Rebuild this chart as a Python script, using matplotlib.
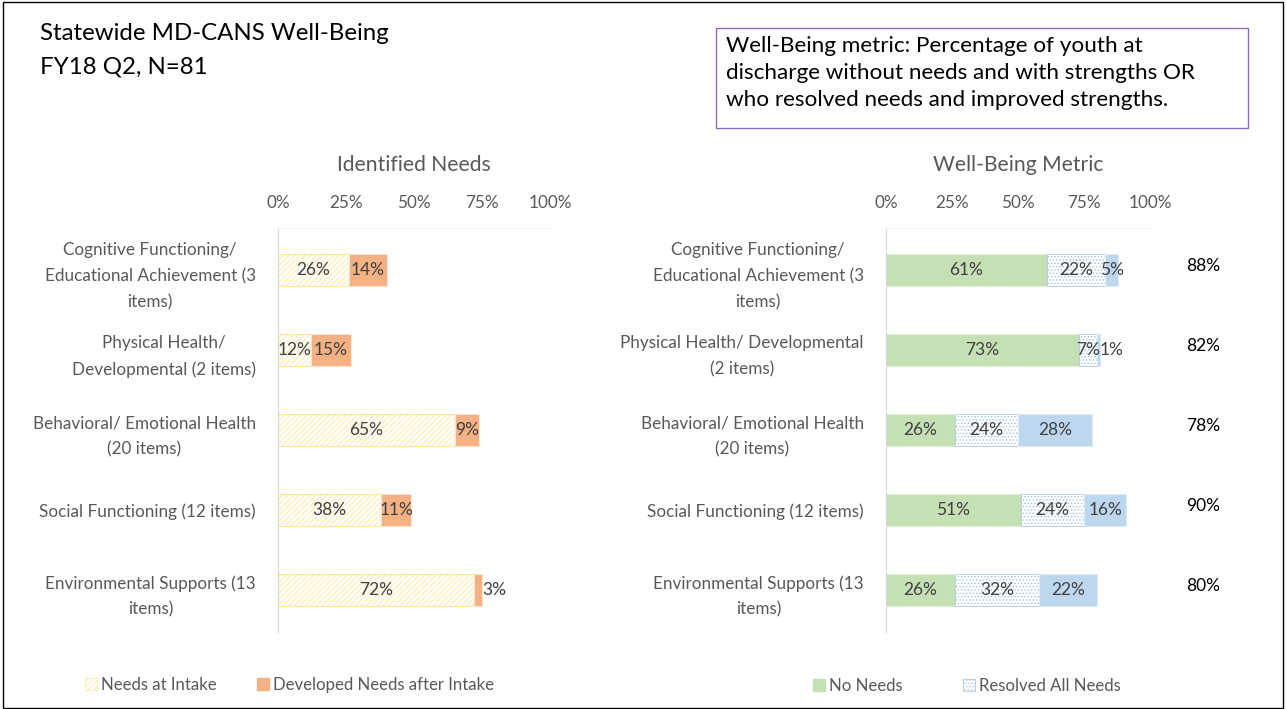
import matplotlib.pyplot as plt
from matplotlib.patches import Rectangle, Patch

plt.rcParams['font.family'] = ['Lato', 'DejaVu Sans']
plt.rcParams['hatch.linewidth'] = 0.6

# dados
areas_esq = ['Cognitive Functioning/\nEducational Achievement (3\nitems)',
             'Physical Health/\nDevelopmental (2 items)',
             'Behavioral/ Emotional Health\n(20 items)',
             'Social Functioning (12 items)',
             'Environmental Supports (13\nitems)']
areas_dir = ['Cognitive Functioning/\nEducational Achievement (3\nitems)',
             'Physical Health/ Developmental\n(2 items)',
             'Behavioral/ Emotional Health\n(20 items)',
             'Social Functioning (12 items)',
             'Environmental Supports (13\nitems)']
needs_intake = [26, 12, 65, 38, 72]
developed = [14, 15, 9, 11, 3]
no_needs = [61, 73, 26, 51, 26]
resolved = [22, 7, 24, 24, 32]
improved = [5, 1, 28, 16, 22]
totais = [88, 82, 78, 90, 80]
ticks = [0, 25, 50, 75, 100]

CINZA = '#595959'
TXT = '#404040'

fig = plt.figure(figsize=(12.86, 7.09), dpi=100)
fig.add_artist(Rectangle((0.002, 0.002), 0.996, 0.995, transform=fig.transFigure,
                         fill=False, edgecolor='black', lw=1))

fig.text(0.031, 0.967, 'Statewide MD-CANS Well-Being\nFY18 Q2, N=81', fontsize=17.3,
         va='top', ha='left', color='black', linespacing=1.7)

fig.add_artist(Rectangle((716 / 1286, 1 - 128 / 709), 532 / 1286, 100 / 709,
                         transform=fig.transFigure, fill=False, edgecolor='#8E6BBF', lw=1))
fig.text(726 / 1286, 1 - 36 / 709,
         'Well-Being metric: Percentage of youth at\ndischarge without needs and with strengths OR\nwho resolved needs and improved strengths.',
         fontsize=16.2, va='top', ha='left', color='black', linespacing=1.45)


def preparar_eixo(ax, labels, titulo):
    y = list(range(len(labels)))
    ax.set_xlim(0, 100)
    ax.set_ylim(4.525, -0.525)
    ax.set_yticks(y)
    ax.set_yticklabels(labels, multialignment='center', fontsize=12.3, color=CINZA,
                       linespacing=1.75)
    ax.set_xticks(ticks)
    ax.set_xticklabels([f'{t}%' for t in ticks], fontsize=12.3, color=CINZA)
    ax.xaxis.tick_top()
    ax.tick_params(length=0, pad=12)
    ax.tick_params(axis='y', pad=16)
    for s in ['right', 'bottom']:
        ax.spines[s].set_visible(False)
    ax.spines['left'].set_color('#D9D9D9')
    ax.spines['top'].set_color('#F2F2F2')
    ax.set_title(titulo, fontsize=15.2, color=CINZA, pad=41)
    return y


def rotular(ax, y, esquerda, valores):
    for yi, l, v in zip(y, esquerda, valores):
        if v < 4:
            x = l + v + 4.5
        else:
            x = l + v / 2
        ax.text(x, yi, f'{v}%', ha='center', va='center', fontsize=12.5, color=TXT)


ax1 = fig.add_axes([278 / 1286, 1 - 632 / 709, 272 / 1286, 404 / 709])
y = preparar_eixo(ax1, areas_esq, 'Identified Needs')
ax1.barh(y, needs_intake, height=0.4, color='white', edgecolor='#FFE699', hatch='//////', lw=0.8)
ax1.barh(y, developed, left=needs_intake, height=0.4, color='#F4B183', edgecolor='#FBE5D6', lw=0.8)
rotular(ax1, y, [0] * 5, needs_intake)
rotular(ax1, y, needs_intake, developed)

ax2 = fig.add_axes([886 / 1286, 1 - 632 / 709, 264 / 1286, 404 / 709])
y = preparar_eixo(ax2, areas_dir, 'Well-Being Metric')
ax2.barh(y, no_needs, height=0.4, color='#C5E0B4', edgecolor='#E2F0D9', lw=0.8)
ax2.barh(y, resolved, left=no_needs, height=0.4, color='white', edgecolor='#9DC3E6', hatch='.....', lw=0.5)
esq3 = [a + b for a, b in zip(no_needs, resolved)]
ax2.barh(y, improved, left=esq3, height=0.4, color='#BDD7EE', edgecolor='#DEEBF7', lw=0.8)
rotular(ax2, y, [0] * 5, no_needs)
rotular(ax2, y, no_needs, resolved)
rotular(ax2, y, esq3, improved)
for yi, t in zip(y, totais):
    ax2.text(120, yi - 0.05, f'{t}%', ha='center', va='center', fontsize=12.5, color='black')

fig.legend(handles=[Patch(facecolor='white', edgecolor='#FFE699', hatch='//////', lw=0.5),
                    Patch(facecolor='#F4B183', edgecolor='#F4B183')],
           labels=['Needs at Intake', 'Developed Needs after Intake'],
           loc='center left', bbox_to_anchor=(70 / 1286, 1 - 685 / 709), ncol=2,
           frameon=False, fontsize=12.1, labelcolor=CINZA, handlelength=0.7, handleheight=0.7,
           handletextpad=0.25, columnspacing=2.4)
fig.legend(handles=[Patch(facecolor='#C5E0B4', edgecolor='#C5E0B4'),
                    Patch(facecolor='white', edgecolor='#9DC3E6', hatch='.....', lw=0.5)],
           labels=['No Needs', 'Resolved All Needs'],
           loc='center left', bbox_to_anchor=(798 / 1286, 1 - 686 / 709), ncol=2,
           frameon=False, fontsize=12.1, labelcolor=CINZA, handlelength=0.7, handleheight=0.7,
           handletextpad=0.25, columnspacing=3.6)

fig.savefig('out.png', dpi=100)
